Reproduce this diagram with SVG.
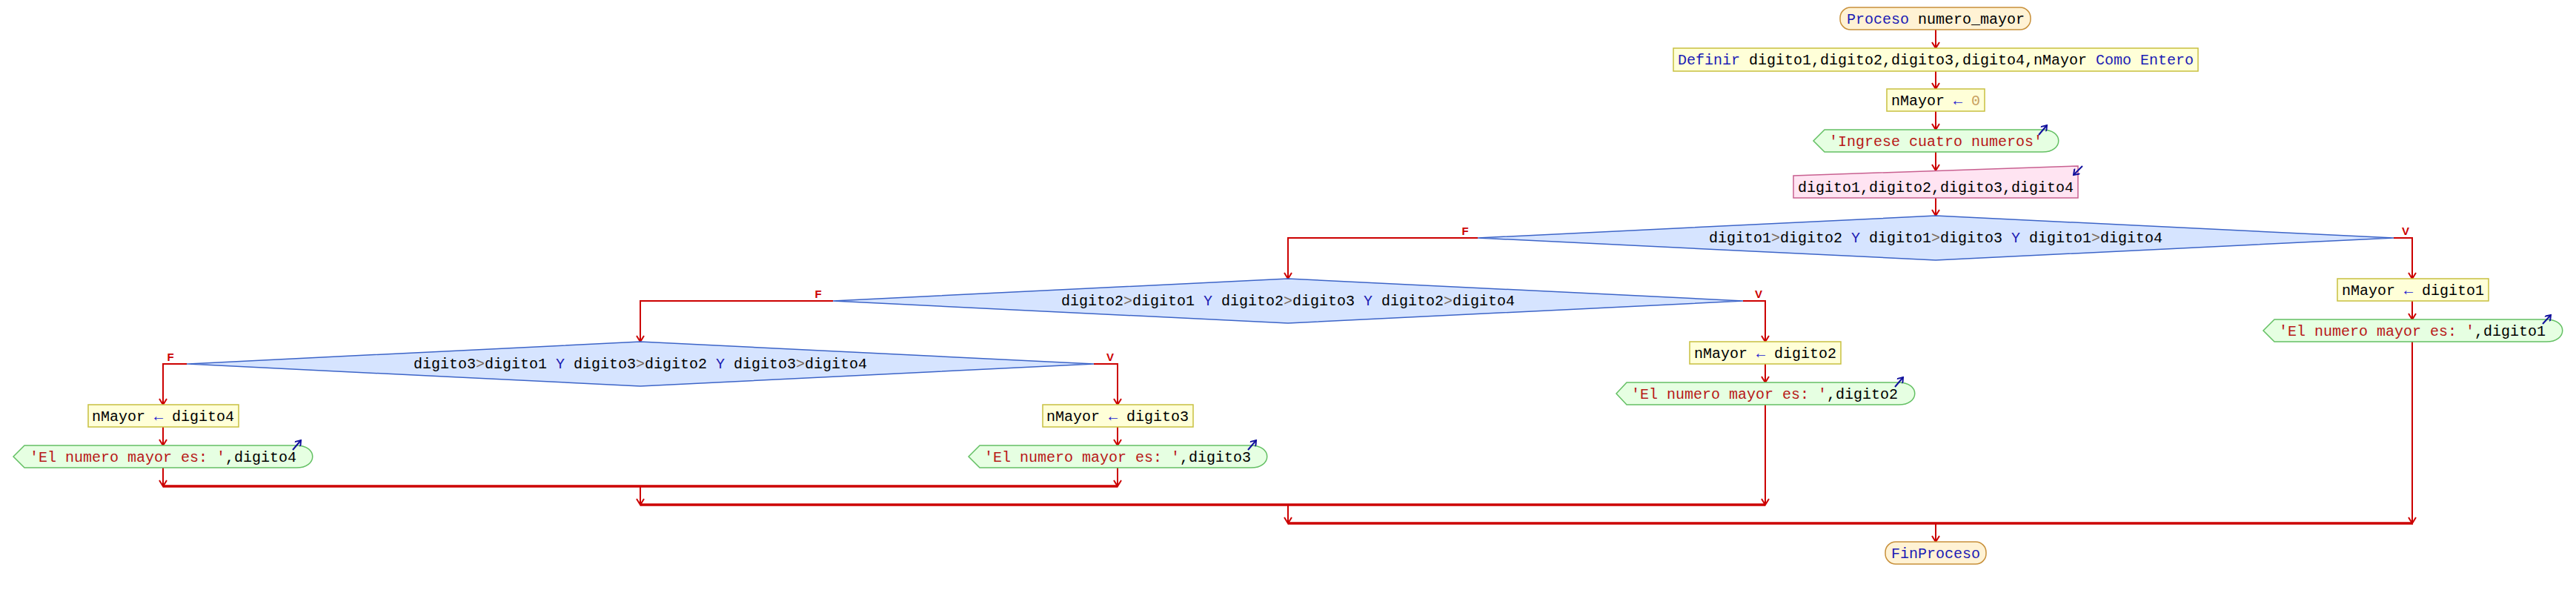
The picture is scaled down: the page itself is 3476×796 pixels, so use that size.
<svg xmlns="http://www.w3.org/2000/svg" width="3476" height="796" viewBox="0 0 3476 796">
<style>
text{font-family:"Liberation Mono","Courier New",monospace;font-size:20px;fill:#000;white-space:pre;text-anchor:middle}
.kw{fill:#1c1cb4}
.op{fill:#7a6a5a}
.ar{fill:#2020d0}
.num{fill:#c8a060}
.str{fill:#b81818}
.lbl{font-family:"Liberation Sans",Arial,sans-serif;font-size:15px;font-weight:bold;fill:#cc0000}
.term{fill:#fff2d4;stroke:#c8903a;stroke-width:1.5}
.asg{fill:#ffffd8;stroke:#c8c040;stroke-width:1.5}
.out{fill:#e6ffe2;stroke:#64c064;stroke-width:1.5}
.inp{fill:#ffe4f2;stroke:#c86090;stroke-width:1.5}
.dec{fill:#d6e4ff;stroke:#3c64c8;stroke-width:1.5}
.io{fill:none;stroke:#10109c;stroke-width:2;marker-end:url(#barb)}
#connectors path{fill:none;stroke:#cc0000;stroke-width:2}
#connectors path.arr{marker-end:url(#ah)}
#connectors path.join{stroke-width:3.5}
</style>
<defs>
<marker id="ah" markerUnits="userSpaceOnUse" viewBox="0 0 12 12" refX="10" refY="6" markerWidth="12" markerHeight="12" orient="auto">
<path d="M2,1 L10,6 L2,11" fill="none" stroke="#cc0000" stroke-width="2"/>
</marker>
<marker id="barb" markerUnits="userSpaceOnUse" viewBox="0 0 10 10" refX="8" refY="5" markerWidth="10" markerHeight="10" orient="auto">
<path d="M1,0 L8,5 L1,10" fill="none" stroke="#10109c" stroke-width="2"/>
</marker>
</defs>
<rect width="3476" height="796" fill="#fff"/>

<g id="connectors">
<path class="arr" d="M2612,40 V65"/>
<path class="arr" d="M2612,96 V120"/>
<path class="arr" d="M2612,150 V175"/>
<path class="arr" d="M2612,205 V230"/>
<path class="arr" d="M2612,267 V291"/>
<path class="arr" d="M3230,321 H3255 V376"/>
<path class="arr" d="M3255,406 V431"/>
<path class="arr" d="M3255,461 V706"/>
<path class="arr" d="M1994,321 H1738 V376"/>
<path class="arr" d="M2352,406 H2382 V461"/>
<path class="arr" d="M2382,491 V516"/>
<path class="arr" d="M2382,546 V681"/>
<path class="arr" d="M1124,406 H864 V461"/>
<path class="arr" d="M1476,491 H1508 V546"/>
<path class="arr" d="M1508,576 V601"/>
<path class="arr" d="M1508,631 V656"/>
<path class="arr" d="M252,491 H220 V546"/>
<path class="arr" d="M220,576 V601"/>
<path class="arr" d="M220,631 V656"/>
<path class="join" d="M220,656 H1508"/>
<path class="arr" d="M864,656 V681"/>
<path class="join" d="M864,681 H2382"/>
<path class="arr" d="M1738,681 V706"/>
<path class="join" d="M1738,706 H3256"/>
<path class="arr" d="M2612,706 V731"/>
</g>

<g id="start">
<rect class="term" x="2483" y="10" width="257" height="30" rx="14"/>
<text x="2612" y="32"><tspan class="kw">Proceso</tspan> numero_mayor</text>
</g>
<g id="definir">
<rect class="asg" x="2258" y="65" width="708" height="31"/>
<text x="2612" y="87"><tspan class="kw">Definir</tspan> digito1,digito2,digito3,digito4,nMayor <tspan class="kw">Como</tspan> <tspan class="kw">Entero</tspan></text>
</g>
<g id="init">
<rect class="asg" x="2546" y="120" width="132" height="30"/>
<text x="2612" y="142">nMayor <tspan class="ar">←</tspan> <tspan class="num">0</tspan></text>
</g>
<g id="out_ingrese">
<path class="out" d="M2447,190 L2462,175 L2756,175 C2785,175 2785,205 2756,205 L2462,205 Z"/>
<text x="2612" y="197" class="str">'Ingrese cuatro numeros'</text>
<path class="io" d="M2751,182 L2762,169"/>
</g>
<g id="read">
<path class="inp" d="M2420,237 L2804,224 L2804,267 L2420,267 Z"/>
<text x="2612" y="259">digito1,digito2,digito3,digito4</text>
<path class="io" d="M2810,224 L2798,236"/>
</g>

<g id="dec1">
<polygon class="dec" points="2612,291 3230,321 2612,351 1994,321"/>
<text x="2612" y="327">digito1<tspan class="op">&gt;</tspan>digito2 <tspan class="kw">Y</tspan> digito1<tspan class="op">&gt;</tspan>digito3 <tspan class="kw">Y</tspan> digito1<tspan class="op">&gt;</tspan>digito4</text>
<text class="lbl" x="1977" y="317">F</text>
<text class="lbl" x="3246" y="317">V</text>
</g>
<g id="asg1">
<rect class="asg" x="3154" y="376" width="204" height="30"/>
<text x="3256" y="398">nMayor <tspan class="ar">←</tspan> digito1</text>
</g>
<g id="out1">
<path class="out" d="M3054,446 L3069,431 L3436,431 C3465,431 3465,461 3436,461 L3069,461 Z"/>
<text x="3255" y="453"><tspan class="str">'El numero mayor es: '</tspan>,digito1</text>
<path class="io" d="M3431,437 L3442,425"/>
</g>

<g id="dec2">
<polygon class="dec" points="1738,376 2352,406 1738,436 1124,406"/>
<text x="1738" y="412">digito2<tspan class="op">&gt;</tspan>digito1 <tspan class="kw">Y</tspan> digito2<tspan class="op">&gt;</tspan>digito3 <tspan class="kw">Y</tspan> digito2<tspan class="op">&gt;</tspan>digito4</text>
<text class="lbl" x="1104" y="402">F</text>
<text class="lbl" x="2373" y="402">V</text>
</g>
<g id="asg2">
<rect class="asg" x="2280" y="461" width="204" height="30"/>
<text x="2382" y="483">nMayor <tspan class="ar">←</tspan> digito2</text>
</g>
<g id="out2">
<path class="out" d="M2181,531 L2195,516 L2562,516 C2591,516 2591,546 2562,546 L2195,546 Z"/>
<text x="2381" y="538"><tspan class="str">'El numero mayor es: '</tspan>,digito2</text>
<path class="io" d="M2557,522 L2568,509"/>
</g>

<g id="dec3">
<polygon class="dec" points="864,461 1476,491 864,521 252,491"/>
<text x="864" y="497">digito3<tspan class="op">&gt;</tspan>digito1 <tspan class="kw">Y</tspan> digito3<tspan class="op">&gt;</tspan>digito2 <tspan class="kw">Y</tspan> digito3<tspan class="op">&gt;</tspan>digito4</text>
<text class="lbl" x="230" y="487">F</text>
<text class="lbl" x="1498" y="487">V</text>
</g>
<g id="asg3">
<rect class="asg" x="1407" y="546" width="203" height="30"/>
<text x="1508" y="568">nMayor <tspan class="ar">←</tspan> digito3</text>
</g>
<g id="out3">
<path class="out" d="M1307,616 L1322,601 L1688,601 C1717,601 1717,631 1688,631 L1322,631 Z"/>
<text x="1508" y="623"><tspan class="str">'El numero mayor es: '</tspan>,digito3</text>
<path class="io" d="M1684,607 L1695,594"/>
</g>
<g id="asg4">
<rect class="asg" x="119" y="546" width="203" height="30"/>
<text x="220" y="568">nMayor <tspan class="ar">←</tspan> digito4</text>
</g>
<g id="out4">
<path class="out" d="M18,616 L33,601 L400,601 C429,601 429,631 400,631 L33,631 Z"/>
<text x="220" y="623"><tspan class="str">'El numero mayor es: '</tspan>,digito4</text>
<path class="io" d="M395,607 L406,594"/>
</g>

<g id="end">
<rect class="term" x="2544" y="731" width="136" height="30" rx="14"/>
<text x="2612" y="753" class="kw">FinProceso</text>
</g>
</svg>
